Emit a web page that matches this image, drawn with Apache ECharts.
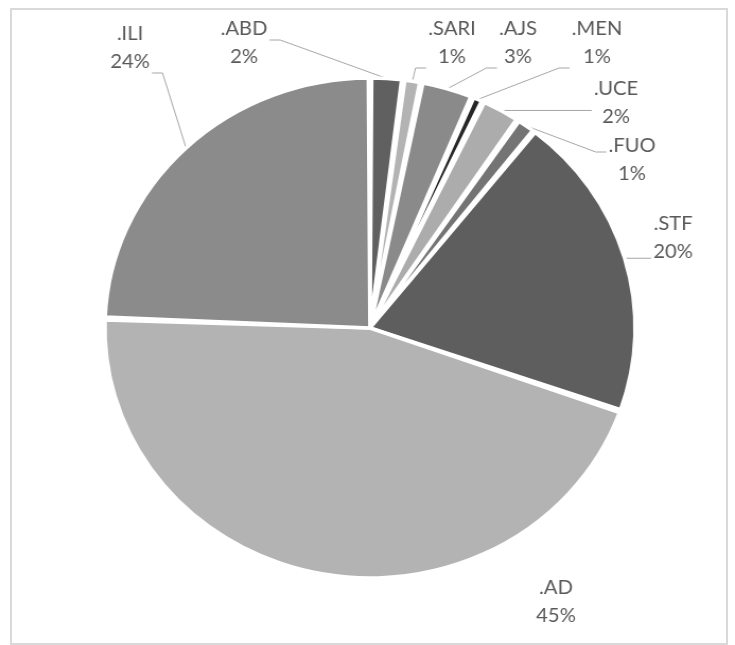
<!DOCTYPE html>
<html><head><meta charset="utf-8">
<script src="https://cdn.jsdelivr.net/npm/echarts@6/dist/echarts.min.js"></script>
<style>
html,body{margin:0;padding:0;background:#fff;overflow:hidden;width:735px;height:645px}
#frame{position:absolute;left:10px;top:8px;width:714px;height:633px;border:2px solid #d9d9d9}
#chart{position:absolute;left:0;top:0;width:693px;height:645px;transform:scaleX(1.0606);transform-origin:0 0}
</style></head><body>
<div id="frame"></div>
<div id="chart"></div>
<script>
// ---- data ----
const categories = ['.ABD', '.SARI', '.AJS', '.MEN', '.UCE', '.FUO', '.STF', '.AD', '.ILI'];
const values = [2.0, 1.1, 3.2, 0.7, 2.4, 1.2, 19.8, 45.2, 24.4];
// ---- styles ----
const colors = ['#606060', '#b3b3b3', '#8a8a8a', '#262626', '#acacac', '#747474', '#5e5e5e', '#b3b3b3', '#8b8b8b'];
// label block centres (screen px)
const labelAnchors = [[244, 43], [452, 43], [518, 43], [597, 43], [616, 103], [632, 160], [673, 238], [556, 602], [130, 48]];
const SX = 1.0606;

const chart = echarts.init(document.getElementById('chart'), null, {renderer: 'canvas'});
const data = categories.map((n, i) => ({
  name: n,
  value: values[i],
  itemStyle: {color: colors[i]},
  labelLine: {show: n !== '.AD'}
}));

chart.setOption({
  animation: false,
  backgroundColor: 'transparent',
  series: [{
    type: 'pie',
    center: [370 / SX, 328],
    radius: 250,
    startAngle: 90,
    clockwise: true,
    padAngle: 0.7,
    avoidLabelOverlap: false,
    itemStyle: {borderColor: '#ffffff', borderWidth: 3.5},
    emphasis: {disabled: true},
    label: {
      show: true,
      position: 'outside',
      formatter: p => p.name + '\n' + Math.round(p.percent) + '%',
      color: '#595959',
      fontFamily: 'Lato',
      fontSize: 19,
      lineHeight: 28,
      align: 'center'
    },
    labelLine: {show: true, length: 10, length2: 10, lineStyle: {color: '#a6a6a6', width: 1}},
    labelLayout: function (params) {
      const a = labelAnchors[params.dataIndex];
      const lx = a[0] / SX, ly = a[1];
      const w = params.labelRect.width;
      const out = {x: lx, y: ly, align: 'center', verticalAlign: 'middle'};
      const pts = params.labelLinePoints;
      if (pts && pts.length) {
        const p0 = pts[0];
        const left = lx - w / 2 - 2, right = lx + w / 2 + 2;
        let ey = Math.max(ly - 8, Math.min(ly + 25, p0[1]));
        let ex, bx;
        if (p0[0] < left) { ex = left; bx = left - 10; }
        else if (p0[0] > right) { ex = right; bx = right + 10; if (p0[0] - right > 60) ey = ly - 3; }
        else { ex = lx; bx = lx; }
        out.labelLinePoints = [p0, [bx, ey], [ex, ey]];
      }
      return out;
    },
    data: data
  }]
});
</script>
</body></html>
